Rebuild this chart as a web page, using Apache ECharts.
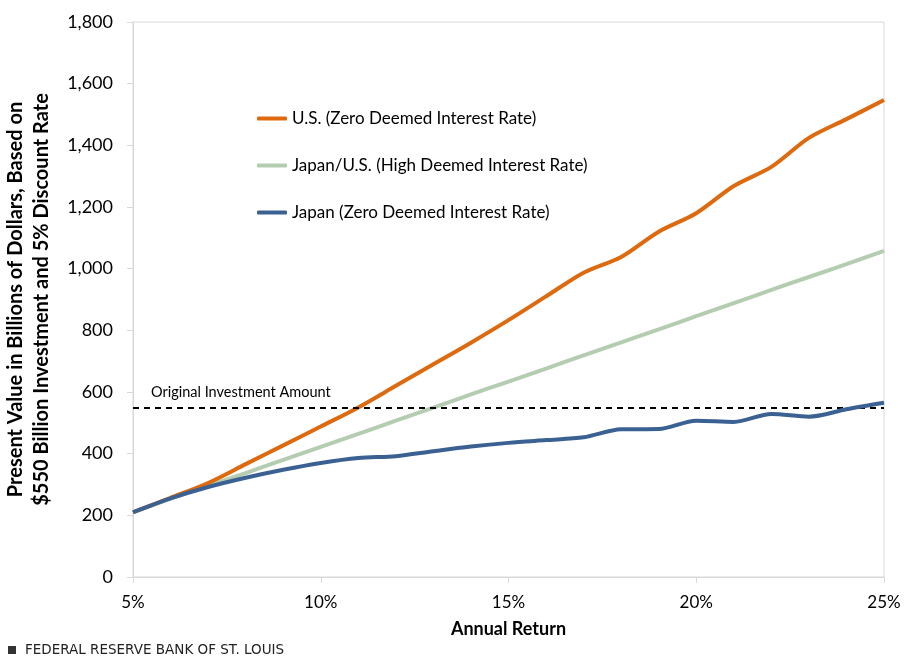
<!DOCTYPE html>
<html>
<head>
<meta charset="utf-8">
<script src="https://cdn.jsdelivr.net/npm/echarts@6/dist/echarts.min.js"></script>
<style>
html,body{margin:0;padding:0;background:#fff;}
#chart{width:909px;height:659px;}
</style>
</head>
<body>
<div id="chart"></div>
<script>
const returns = [5, 6, 7, 8, 9, 10, 11, 12, 13, 14, 15, 16, 17, 18, 19, 20, 21, 22, 23, 24, 25];
const usZero = [210, 257, 305, 366, 427, 488, 550, 620, 690, 760, 833, 910, 987, 1038, 1120, 1180, 1268, 1330, 1424, 1485, 1547];
const highRate = [210, 254, 296, 337, 380, 422, 464, 507, 549, 592, 634, 676, 719, 761, 803, 846, 888, 931, 973, 1015, 1058];
const japanZero = [210, 255, 292, 322, 348, 370, 386, 392, 408, 423, 435, 444, 453, 479, 480, 507, 503, 529, 520, 544, 565];
const originalInvestment = 550;
const seriesNames = ['U.S. (Zero Deemed Interest Rate)', 'Japan/U.S. (High Deemed Interest Rate)', 'Japan (Zero Deemed Interest Rate)'];
const colors = ['#DD6A0E', '#B4CDB1', '#3B6192'];

const FONT = 'Lato';
const pair = arr => returns.map((r, i) => [r, arr[i]]);

const chart = echarts.init(document.getElementById('chart'), null, {renderer: 'canvas'});
chart.setOption({
  animation: false,
  textStyle: {fontFamily: FONT, color: '#000'},
  grid: {left: 133, right: 25, top: 22, bottom: 82, show: true, borderColor: '#d9d9d9', borderWidth: 1, containLabel: false, outerBoundsMode: 'none'},
  legend: {
    orient: 'vertical',
    left: 252, top: 105,
    itemGap: 30,
    itemWidth: 30, itemHeight: 4,
    icon: 'roundRect',
    textStyle: {fontFamily: FONT, fontSize: 17, color: '#000'},
    data: seriesNames
  },
  xAxis: {
    type: 'value', min: 5, max: 25, interval: 5,
    name: 'Annual Return', nameLocation: 'middle', nameGap: 43,
    nameTextStyle: {fontFamily: FONT, fontSize: 18, fontWeight: 'bold', color: '#000'},
    axisLine: {show: true, lineStyle: {color: '#d9d9d9', width: 1}},
    axisTick: {show: true, length: 6, lineStyle: {color: '#d9d9d9'}},
    axisLabel: {formatter: v => v + '%', fontSize: 17, color: '#000', margin: 17, fontFamily: FONT},
    splitLine: {show: false}
  },
  yAxis: {
    type: 'value', min: 0, max: 1800, interval: 200,
    name: 'Present Value in Billions of Dollars, Based on\n$550 Billion Investment and 5% Discount Rate',
    nameLocation: 'middle', nameGap: 78,
    nameTextStyle: {fontFamily: FONT, fontSize: 20, fontWeight: 'bold', color: '#000', lineHeight: 26},
    axisLine: {show: true, lineStyle: {color: '#d9d9d9', width: 1}},
    axisTick: {show: true, length: 6, lineStyle: {color: '#d9d9d9'}},
    axisLabel: {formatter: v => v.toLocaleString('en-US'), fontSize: 18, color: '#000', margin: 20, fontFamily: FONT},
    splitLine: {show: false}
  },
  series: [
    {
      name: seriesNames[0], type: 'line', data: pair(usZero), smooth: 0.3, symbol: 'none', z: 4,
      lineStyle: {color: colors[0], width: 4}, itemStyle: {color: colors[0]},
      markLine: {
        silent: true, symbol: 'none',
        lineStyle: {color: '#000', type: [6, 5], width: 2},
        label: {show: false},
        data: [{yAxis: originalInvestment}]
      }
    },
    {
      name: seriesNames[1], type: 'line', data: pair(highRate), smooth: 0.3, symbol: 'none', z: 3,
      lineStyle: {color: colors[1], width: 4}, itemStyle: {color: colors[1]}
    },
    {
      name: seriesNames[2], type: 'line', data: pair(japanZero), smooth: 0.3, symbol: 'none', z: 5,
      lineStyle: {color: colors[2], width: 4}, itemStyle: {color: colors[2]}
    }
  ],
  graphic: [
    {type: 'text', left: 151, top: 385, style: {text: 'Original Investment Amount', fontFamily: 'Lato', fontSize: 14.5, fill: '#000'}},
    {type: 'rect', left: 8, top: 646, shape: {width: 8, height: 8}, style: {fill: '#333'}},
    {type: 'text', left: 25, top: 643, style: {text: 'FEDERAL RESERVE BANK OF ST. LOUIS', fontFamily: 'DejaVu Sans', fontSize: 13.5, fill: '#222'}}
  ]
});
</script>
</body>
</html>
